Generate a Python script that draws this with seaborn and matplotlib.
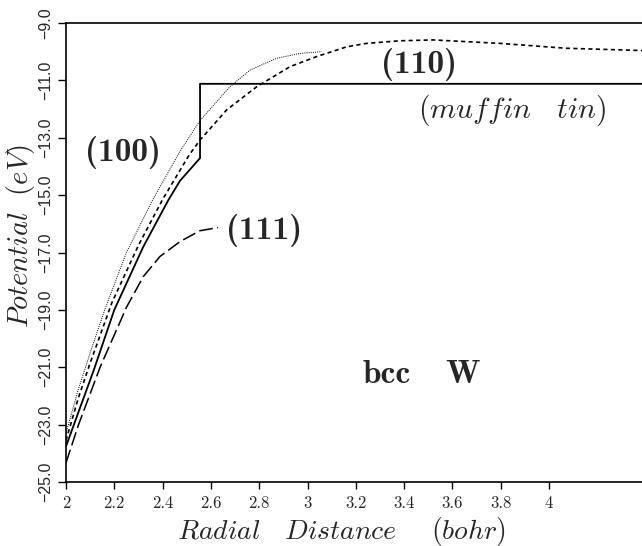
import matplotlib
matplotlib.use("Agg")
import matplotlib.pyplot as plt
import seaborn as sns
import pandas as pd

sns.set_theme(style="white")
plt.rcParams["mathtext.fontset"] = "cm"
plt.rcParams["axes.unicode_minus"] = True

# muffin-tin potential (solid)
mt_x = [2.0, 2.05, 2.115, 2.2, 2.32, 2.424, 2.472, 2.555, 2.555, 4.385]
mt_y = [-23.76, -22.6, -21.1, -19.0, -16.8, -15.17, -14.5, -13.71, -11.12, -11.12]
# (100) direction (dotted)
d100_x = [2.0, 2.05, 2.1, 2.16, 2.25, 2.36, 2.47, 2.555, 2.679, 2.762, 2.872, 2.969, 3.059]
d100_y = [-23.3, -21.8, -20.5, -19.0, -17.0, -15.15, -13.5, -12.4, -11.22, -10.64,
          -10.23, -10.06, -10.0]
# (110) direction (dashed)
d110_x = [2.0, 2.05, 2.1, 2.19, 2.3, 2.4, 2.51, 2.555, 2.665, 2.79, 2.928, 3.038,
          3.162, 3.245, 3.383, 3.52, 3.797, 4.07, 4.385]
d110_y = [-23.55, -22.1, -20.85, -18.75, -16.75, -15.15, -13.6, -13.08, -12.03, -11.22,
          -10.52, -10.17, -9.83, -9.71, -9.62, -9.59, -9.71, -9.88, -9.96]
# (111) direction (long dashed)
d111_x = [2.0, 2.052, 2.142, 2.251, 2.32, 2.389, 2.472, 2.555, 2.63]
d111_y = [-24.33, -23.0, -20.98, -18.9, -17.84, -17.14, -16.62, -16.24, -16.13]

x_ticks = [2.0, 2.2, 2.4, 2.6, 2.8, 3.0, 3.2, 3.4, 3.6, 3.8, 4.0]
x_tick_labels = ["2", "2.2", "2.4", "2.6", "2.8", "3", "3.2", "3.4", "3.6", "3.8", "4"]
y_ticks = [-9.0, -11.0, -13.0, -15.0, -17.0, -19.0, -21.0, -23.0, -25.0]
y_tick_labels = ["\u22129.0", "\u221211.0", "\u221213.0", "\u221215.0", "\u221217.0",
                 "\u221219.0", "\u221221.0", "\u221223.0", "\u221225.0"]

fig = plt.figure(figsize=(6.42, 5.46), dpi=100)
ax = fig.add_axes([66 / 642, 1 - 482 / 546, 1 - 66 / 642, (482 - 23) / 546])

def draw(xs, ys, **kw):
    df = pd.DataFrame({"x": xs, "y": ys})
    sns.lineplot(data=df, x="x", y="y", ax=ax, estimator=None, sort=False,
                 color="black", legend=False, **kw)

draw(mt_x, mt_y, linewidth=1.3)
draw(d100_x, d100_y, linewidth=0.7, linestyle=(0, (1, 1.2)))
draw(d110_x, d110_y, linewidth=1.2, linestyle=(0, (2.5, 2)))
draw(d111_x, d111_y, linewidth=1.1, linestyle=(0, (9, 3)))

ax.set_xlim(2.0, 4.385)
ax.set_ylim(-25.0, -9.0)
ax.set_xticks(x_ticks)
ax.set_xticklabels(x_tick_labels, fontfamily="cmr10", fontsize=12)
ax.set_yticks(y_ticks)
ax.set_yticklabels(y_tick_labels, rotation=90, va="center",
                   fontfamily=["Liberation Sans", "DejaVu Sans"], fontsize=11.5)
ax.tick_params(axis="x", direction="out", length=5, width=1, color="black",
               bottom=True, pad=5)
ax.tick_params(axis="y", direction="out", length=6, width=1, color="black",
               left=True, pad=3)

for side in ["left", "bottom", "top"]:
    ax.spines[side].set_visible(True)
    ax.spines[side].set_color("black")
    ax.spines[side].set_linewidth(1.2)
ax.spines["right"].set_visible(False)

xl = ax.set_xlabel(r"$Radial\quad Distance\quad\;\, (bohr)$", fontsize=20)
xl.set_va("center")
ax.xaxis.set_label_coords((341 - 66) / 576, (482 - 531) / 459)
yl = ax.set_ylabel(r"$Potential\ \ (eV)$", fontsize=20.5)
yl.set_va("center")
ax.yaxis.set_label_coords((21 - 66) / 576, (482 - 236) / 459)

bold = dict(fontfamily="cmb10", fontsize=24, ha="center", va="center")
ax.text(2.236, -13.53, "(100)", **bold)
ax.text(3.46, -10.45, "(110)", **bold)
ax.text(2.82, -16.25, "(111)", **bold)
ax.text(3.847, -12.03, r"$(muffin\quad tin)$", fontsize=21.5, ha="center", va="center")
base = dict(fontfamily="cmb10", fontsize=24, ha="center", va="baseline")
ax.text(3.327, -21.54, "bcc", **base)
ax.text(3.642, -21.54, "W", **base)

fig.savefig("out.png", dpi=100)
